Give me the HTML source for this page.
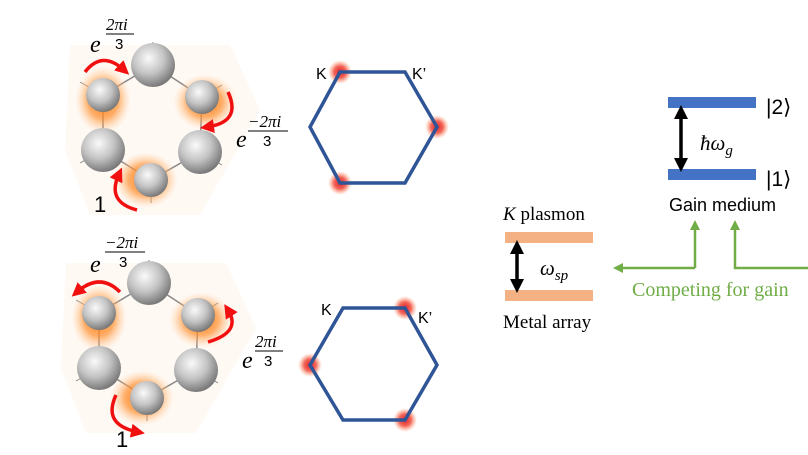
<!DOCTYPE html>
<html><head><meta charset="utf-8"><style>
html,body{margin:0;padding:0;background:#fff;}
svg{display:block;}
.m{font-family:"Liberation Serif","DejaVu Serif",serif;font-style:italic;}
.s{font-family:"Liberation Sans","DejaVu Sans",sans-serif;}
</style></head><body>
<svg width="808" height="455" viewBox="0 0 808 455" xmlns="http://www.w3.org/2000/svg">
<defs>
<radialGradient id="sph" cx="0.4" cy="0.35" r="0.7">
<stop offset="0" stop-color="#fafafa"/><stop offset="0.5" stop-color="#c4c4c4"/><stop offset="1" stop-color="#6e6e6e"/>
</radialGradient>
<radialGradient id="glow"><stop offset="0" stop-color="#ff7000" stop-opacity="1"/><stop offset="0.55" stop-color="#ff9030" stop-opacity="0.7"/><stop offset="1" stop-color="#ffd0a0" stop-opacity="0"/></radialGradient>
<radialGradient id="rdot"><stop offset="0" stop-color="#e0202a"/><stop offset="0.5" stop-color="#f04030" stop-opacity="0.8"/><stop offset="1" stop-color="#ff9060" stop-opacity="0"/></radialGradient>
<marker id="ar" markerWidth="4" markerHeight="4" refX="2" refY="2" orient="auto"><path d="M0,0 L4,2 L0,4 Z" fill="#f01010"/></marker>
<marker id="ab" markerWidth="4" markerHeight="4" refX="2" refY="2" orient="auto-start-reverse"><path d="M0,0 L4,2 L0,4 Z" fill="#000"/></marker>
<marker id="ag" markerWidth="4" markerHeight="4" refX="2" refY="2" orient="auto"><path d="M0,0 L4,2 L0,4 Z" fill="#70ad47"/></marker>
<g id="mol">
<polygon points="70,45 230,45 260,110 200,215 90,215 65,150" fill="#fff3ea" opacity="0.5"/>
<polygon points="153,65 202,97 200,152 151,180 103,150 103,95" fill="none" stroke="#888" stroke-width="1.5"/>
<line x1="153" y1="65" x2="153" y2="42" stroke="#888"/><line x1="202" y1="97" x2="222" y2="85" stroke="#888"/>
<line x1="200" y1="152" x2="222" y2="165" stroke="#888"/><line x1="151" y1="180" x2="151" y2="203" stroke="#888"/>
<line x1="103" y1="150" x2="80" y2="163" stroke="#888"/><line x1="103" y1="95" x2="80" y2="82" stroke="#888"/>
<ellipse cx="103" cy="100" rx="28" ry="34" fill="url(#glow)"/><ellipse cx="205" cy="102" rx="32" ry="28" fill="url(#glow)"/><ellipse cx="146" cy="180" rx="32" ry="28" fill="url(#glow)"/>
<circle cx="153" cy="65" r="22" fill="url(#sph)"/><circle cx="200" cy="152" r="22" fill="url(#sph)"/><circle cx="103" cy="150" r="22" fill="url(#sph)"/>
<circle cx="103" cy="95" r="17" fill="url(#sph)"/><circle cx="202" cy="97" r="17" fill="url(#sph)"/><circle cx="151" cy="180" r="17" fill="url(#sph)"/>
</g>
</defs>
<g>
<use href="#mol"/>
<path d="M85,72 Q102,50 124,70" fill="none" stroke="#f01010" stroke-width="3.5" marker-end="url(#ar)"/>
<path d="M228,92 Q242,122 207,127" fill="none" stroke="#f01010" stroke-width="3.5" marker-end="url(#ar)"/>
<path d="M137,210 Q106,202 119,174" fill="none" stroke="#f01010" stroke-width="3.5" marker-end="url(#ar)"/>
<text class="m" x="90" y="52" font-size="24">e</text>
<text class="m" x="106" y="30" font-size="17">2πi</text>
<line x1="106" y1="34" x2="134" y2="34" stroke="#000"/><text class="s" x="115" y="49" font-size="15">3</text>
<text class="m" x="236" y="147" font-size="24">e</text>
<text class="m" x="248" y="127" font-size="17">−2πi</text>
<line x1="248" y1="131" x2="288" y2="131" stroke="#000"/><text class="s" x="263" y="146" font-size="15">3</text>
<text class="s" x="94" y="212" font-size="22">1</text>
</g>
<g>
<use href="#mol" transform="translate(-4,218)"/>
<path d="M120,292 Q100,272 77,292" fill="none" stroke="#f01010" stroke-width="3.5" marker-end="url(#ar)"/>
<path d="M208,342 Q242,332 228,310" fill="none" stroke="#f01010" stroke-width="3.5" marker-end="url(#ar)"/>
<path d="M116,395 Q102,425 138,432" fill="none" stroke="#f01010" stroke-width="3.5" marker-end="url(#ar)"/>
<text class="m" x="90" y="272" font-size="24">e</text>
<text class="m" x="105" y="248" font-size="17">−2πi</text>
<line x1="105" y1="252" x2="145" y2="252" stroke="#000"/><text class="s" x="119" y="267" font-size="15">3</text>
<text class="m" x="242" y="368" font-size="24">e</text>
<text class="m" x="255" y="347" font-size="17">2πi</text>
<line x1="255" y1="351" x2="283" y2="351" stroke="#000"/><text class="s" x="264" y="366" font-size="15">3</text>
<text class="s" x="116" y="447" font-size="22">1</text>
</g>
<g>
<circle cx="340" cy="72" r="12" fill="url(#rdot)"/><circle cx="437" cy="127" r="12" fill="url(#rdot)"/><circle cx="340" cy="183" r="12" fill="url(#rdot)"/>
<polygon points="340,72 405,72 437,127 405,183 340,183 310,127" fill="none" stroke="#2f5597" stroke-width="3.5"/>
<text class="s" x="316" y="79" font-size="16">K</text><text class="s" x="412" y="79" font-size="16">K’</text>
</g>
<g>
<circle cx="405" cy="308" r="12" fill="url(#rdot)"/><circle cx="310" cy="365" r="12" fill="url(#rdot)"/><circle cx="405" cy="420" r="12" fill="url(#rdot)"/>
<polygon points="343,308 405,308 437,365 405,420 343,420 310,365" fill="none" stroke="#2f5597" stroke-width="3.5"/>
<text class="s" x="321" y="315" font-size="16">K</text><text class="s" x="418" y="323" font-size="16">K’</text>
</g>
<g>
<rect x="668" y="97" width="88" height="11" fill="#4472c4"/>
<rect x="668" y="169" width="88" height="11" fill="#4472c4"/>
<line x1="681" y1="112" x2="681" y2="165" stroke="#000" stroke-width="3.5" marker-start="url(#ab)" marker-end="url(#ab)"/>
<text class="m" x="700" y="150" font-size="21">ħω<tspan font-size="15" dy="5">g</tspan></text>
<text class="s" x="766" y="114" font-size="21">|2⟩</text>
<text class="s" x="766" y="186" font-size="21">|1⟩</text>
<text class="s" x="669" y="211" font-size="18">Gain medium</text>
</g>
<g>
<text class="m" x="503" y="220" font-size="19">K<tspan font-style="normal"> plasmon</tspan></text>
<rect x="505" y="232" width="88" height="11" fill="#f4b183"/>
<rect x="505" y="290" width="88" height="11" fill="#f4b183"/>
<line x1="517" y1="247" x2="517" y2="286" stroke="#000" stroke-width="3.5" marker-start="url(#ab)" marker-end="url(#ab)"/>
<text class="m" x="540" y="275" font-size="21">ω<tspan font-size="15" dy="5">sp</tspan></text>
<text x="503" y="328" font-size="19" font-family="Liberation Serif,serif">Metal array</text>
</g>
<g>
<polyline points="695,268 695,225" fill="none" stroke="#70ad47" stroke-width="2.5" marker-end="url(#ag)"/>
<polyline points="695,268 618,268" fill="none" stroke="#70ad47" stroke-width="2.5" marker-end="url(#ag)"/>
<polyline points="808,268 735,268 735,225" fill="none" stroke="#70ad47" stroke-width="2.5" marker-end="url(#ag)"/>
<text x="632" y="296" font-size="20" fill="#70ad47" font-family="Liberation Serif,serif">Competing for gain</text>
</g>
</svg>
</body></html>
